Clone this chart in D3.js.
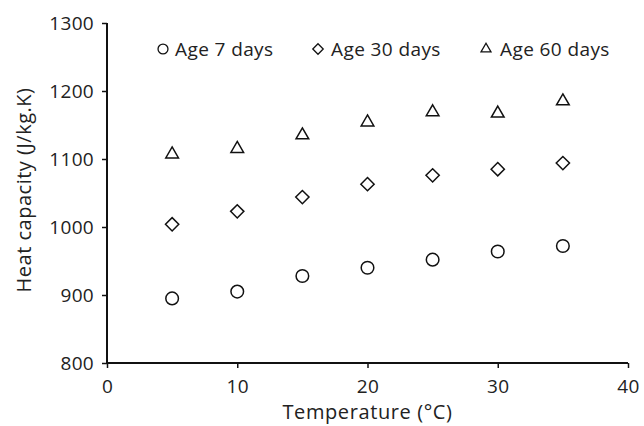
<!DOCTYPE html>
<html>
<head>
<meta charset="utf-8">
<script src="https://d3js.org/d3.v7.min.js"></script>
<style>
  body { margin: 0; background: #fff; }
  svg text { font-family: "Open Sans", "Liberation Sans", sans-serif; fill: #222; }
</style>
</head>
<body>
<div id="chart"></div>
<script>
// temperatures (°C)
const temps = [5, 10, 15, 20, 25, 30, 35];
// heat capacity (J/kg.K) for each age
const age7 = [895, 905, 928, 940, 952, 964, 972];
const age30 = [1004, 1023, 1044, 1063, 1076, 1085, 1094];
const age60 = [1107, 1115, 1135, 1154, 1169, 1167, 1185];
const seriesNames = ["Age 7 days", "Age 30 days", "Age 60 days"];
const xTicks = [0, 10, 20, 30, 40];
const yTicks = [800, 900, 1000, 1100, 1200, 1300];

const width = 644, height = 426;
const margin = { top: 23, right: 16, bottom: 63, left: 107 };

const svg = d3.select("#chart").append("svg")
    .attr("width", width)
    .attr("height", height);

const x = d3.scaleLinear().domain([0, 40]).range([margin.left, width - margin.right]);
const y = d3.scaleLinear().domain([800, 1300]).range([height - margin.bottom, margin.top]);

// axes
const xAxis = svg.append("g")
    .attr("transform", `translate(0,${y(800)})`)
    .call(d3.axisBottom(x).tickValues(xTicks).tickFormat(d3.format("d")).tickSize(5).tickPadding(12));
const yAxis = svg.append("g")
    .attr("transform", `translate(${x(0)},0)`)
    .call(d3.axisLeft(y).tickValues(yTicks).tickFormat(d3.format("d")).tickSize(5).tickPadding(8));

[xAxis, yAxis].forEach(g => {
    g.select(".domain").attr("stroke", "#111").attr("stroke-width", 2);
    g.selectAll(".tick line").attr("stroke", "#111").attr("stroke-width", 1.5);
    g.selectAll(".tick text")
        .style("font-size", "19px")
        .style("letter-spacing", "0.3px")
        .attr("fill", "#222");
});
xAxis.select(".domain").attr("d", `M${x(0)},0H${x(40)}`);
yAxis.select(".domain").attr("d", `M0,${y(1300)}V${y(800)}`);

// axis titles
svg.append("text")
    .attr("x", (x(0) + x(40)) / 2)
    .attr("y", 419)
    .attr("text-anchor", "middle")
    .style("font-size", "20px")
    .style("letter-spacing", "0.6px")
    .text("Temperature (°C)");

svg.append("text")
    .attr("transform", `translate(31,190) rotate(-90)`)
    .attr("text-anchor", "middle")
    .style("font-size", "20px")
    .style("letter-spacing", "0.5px")
    .text("Heat capacity (J/kg.K)");

// markers
const symbols = [d3.symbolCircle, d3.symbolDiamond2, d3.symbolTriangle2];
const sizes = [125, 112, 115];
const allSeries = [age7, age30, age60];

allSeries.forEach((vals, i) => {
    const sym = d3.symbol().type(symbols[i]).size(sizes[i]);
    svg.append("g")
        .selectAll("path")
        .data(vals)
        .enter()
        .append("path")
        .attr("d", sym)
        .attr("transform", (d, j) => `translate(${x(temps[j])},${y(d)})`)
        .attr("fill", "none")
        .attr("stroke", "#111")
        .attr("stroke-width", 1.5);
});

// legend
const legendX = [163, 318, 486];
const textX = [175, 331, 500];
const legend = svg.append("g");
seriesNames.forEach((name, i) => {
    const sym = d3.symbol().type(symbols[i]).size(sizes[i] * 0.62);
    legend.append("path")
        .attr("d", sym)
        .attr("transform", `translate(${legendX[i]},49)`)
        .attr("fill", "none")
        .attr("stroke", "#111")
        .attr("stroke-width", 1.3);
    legend.append("text")
        .attr("x", textX[i])
        .attr("y", 55.5)
        .style("font-size", "19px")
        .style("letter-spacing", "0.4px")
        .text(name);
});
</script>
</body>
</html>
